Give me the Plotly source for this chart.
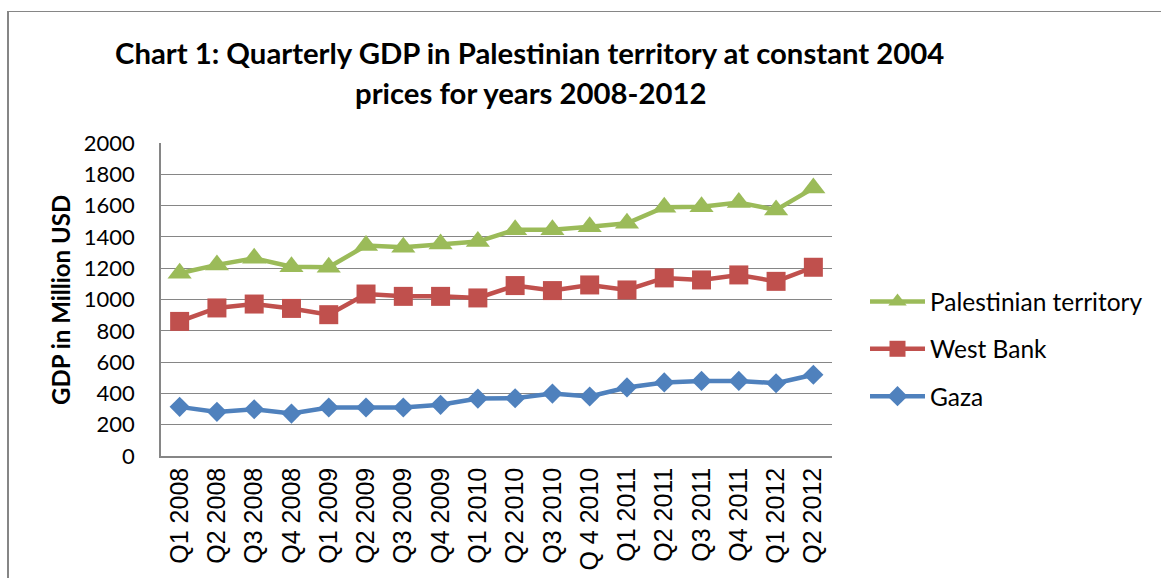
import plotly.graph_objects as go

# Quarterly GDP at constant 2004 prices, million USD
quarters = [
    "Q1 2008", "Q2 2008", "Q3 2008", "Q4 2008",
    "Q1 2009", "Q2 2009", "Q3 2009", "Q4 2009",
    "Q1 2010", "Q2 2010", "Q3 2010", "Q 4 2010",
    "Q1 2011", "Q2 2011", "Q3 2011", "Q4 2011",
    "Q1 2012", "Q2 2012",
]
palestinian_territory = [1168, 1221, 1264, 1210, 1206, 1345, 1334, 1355, 1370,
                         1445, 1445, 1465, 1487, 1590, 1592, 1620, 1572, 1712]
west_bank = [860, 946, 971, 943, 903, 1035, 1020, 1020, 1010,
             1089, 1057, 1093, 1061, 1138, 1125, 1157, 1116, 1206]
gaza = [314, 282, 299, 271, 310, 310, 310, 327, 367,
        369, 399, 380, 438, 470, 480, 480, 465, 519]

y_ticks = list(range(0, 2001, 200))

W, H = 1161, 578
PL, PR, PT, PB = 161, 832, 143, 456  # plot area in pixels


def px_x(px):
    return (px - PL) / (PR - PL)


def px_y(py):
    return (PB - py) / (PB - PT)


GREEN = "#9BBB59"
RED = "#C0504D"
BLUE = "#4F81BD"
GRID = "#868686"
TEXT_FONT = "Lato"

fig = go.Figure()
series = [
    ("Palestinian territory", palestinian_territory, GREEN, "triangle-up", 21),
    ("West Bank", west_bank, RED, "square", 19),
    ("Gaza", gaza, BLUE, "diamond", 15.5),
]
for name, vals, color, symbol, size in series:
    fig.add_trace(go.Scatter(
        x=quarters, y=vals, name=name, legendgroup=name,
        mode="lines+markers",
        line=dict(color=color, width=4.5),
        marker=dict(color=color, symbol=symbol, size=size),
    ))

fig.update_layout(
    width=W, height=H,
    margin=dict(l=PL, r=W - PR, t=PT, b=H - PB, pad=0, autoexpand=False),
    paper_bgcolor="white", plot_bgcolor="white",
    showlegend=True,
    legend=dict(
        x=px_x(865), y=px_y(279), xanchor="left", yanchor="top",
        font=dict(family=TEXT_FONT, size=24.5, color="black"),
        bgcolor="rgba(0,0,0,0)", tracegroupgap=12.5, itemwidth=55,
        traceorder="grouped",
    ),
    xaxis=dict(
        type="category", range=[-0.5, len(quarters) - 0.5], automargin=False,
        showgrid=False, showline=True, linecolor=GRID, linewidth=1.5,
        tickangle=-90, ticks="",
        tickfont=dict(family="Liberation Sans", size=25, color="black"),
    ),
    yaxis=dict(
        range=[0, 2000], tickvals=y_ticks, automargin=False,
        showgrid=True, gridcolor=GRID, gridwidth=1,
        showline=True, linecolor=GRID, linewidth=1.5,
        zeroline=False, ticks="", ticklabelstandoff=20,
        tickfont=dict(family=TEXT_FONT, size=22, color="black"),
    ),
    annotations=[
        dict(text="<b>Chart 1: Quarterly GDP in Palestinian territory at constant 2004</b>",
             xref="paper", yref="paper", x=px_x(529), y=px_y(52),
             xanchor="center", yanchor="middle", showarrow=False,
             font=dict(family=TEXT_FONT, size=29.3, color="black")),
        dict(text="<b>prices for years 2008-2012</b>",
             xref="paper", yref="paper", x=px_x(530), y=px_y(93),
             xanchor="center", yanchor="middle", showarrow=False,
             font=dict(family=TEXT_FONT, size=29.3, color="black")),
        dict(text="<b>GDP in Million USD</b>",
             xref="paper", yref="paper", x=px_x(60), y=px_y(300),
             xanchor="center", yanchor="middle", textangle=-90, showarrow=False,
             font=dict(family=TEXT_FONT, size=24, color="black")),
    ],
    shapes=[
        # chart frame: left and top edges
        dict(type="line", xref="paper", yref="paper",
             x0=px_x(8), x1=px_x(8), y0=px_y(11), y1=px_y(H + 5),
             line=dict(color=GRID, width=2)),
        dict(type="line", xref="paper", yref="paper",
             x0=px_x(7), x1=px_x(W + 5), y0=px_y(11.5), y1=px_y(11.5),
             line=dict(color=GRID, width=1.2)),
    ],
)

fig.write_html("out.html")
